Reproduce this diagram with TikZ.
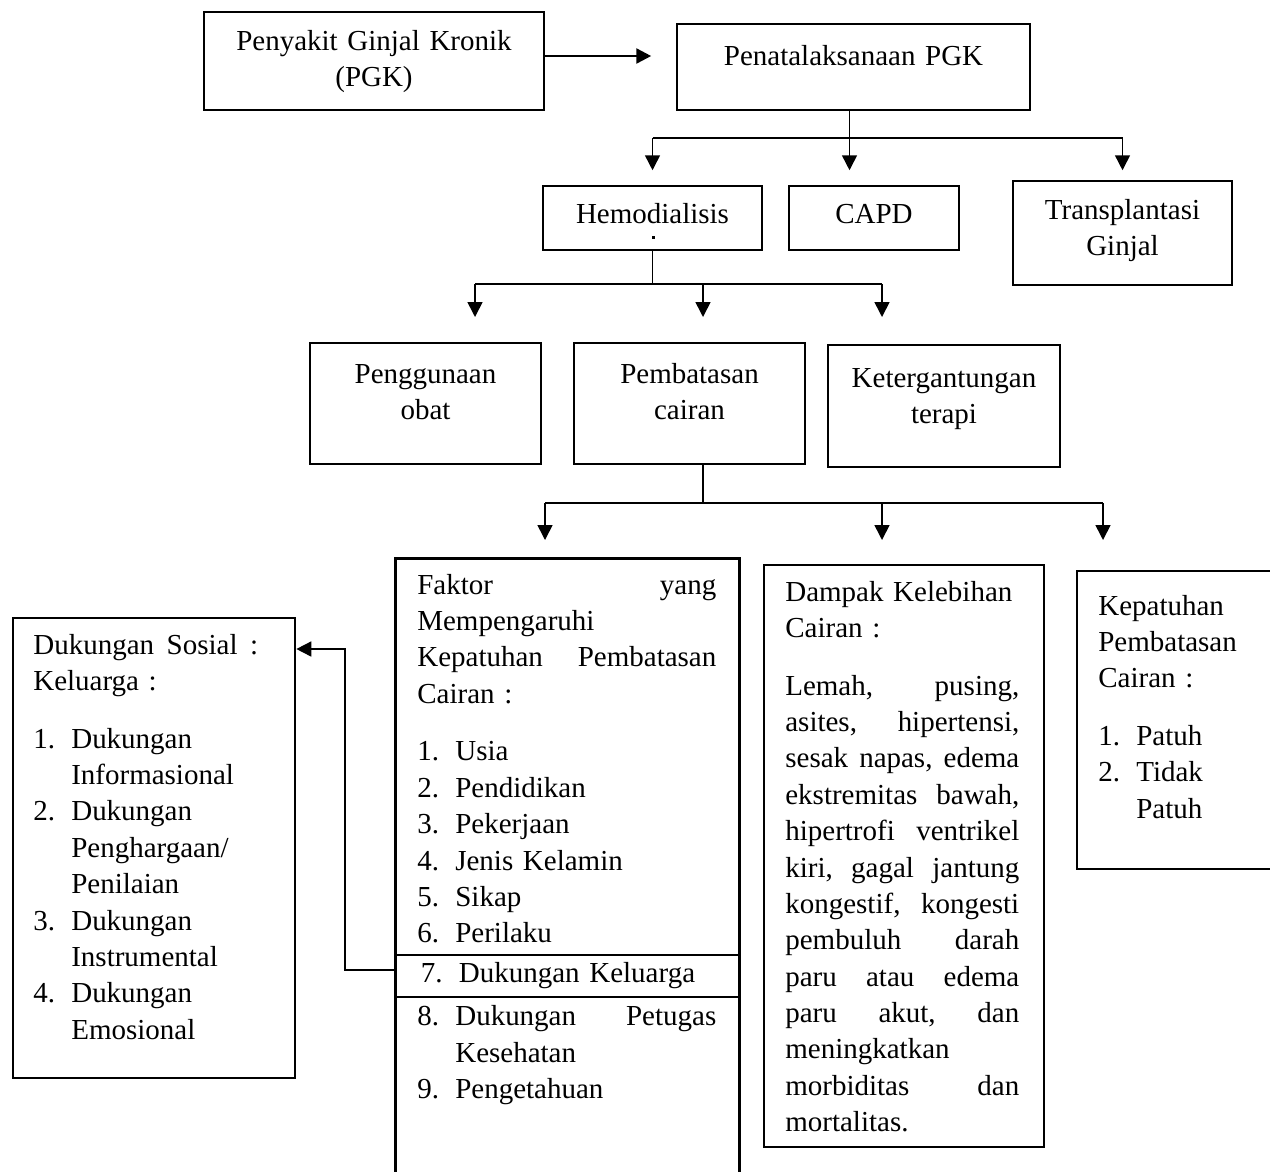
\documentclass[tikz,border=0pt]{standalone}
\usepackage{fontspec}
\setmainfont{Liberation Serif}
\usetikzlibrary{arrows.meta}
\newcommand{\itm}[2]{\makebox[0.76cm][l]{#1}#2}

\begin{document}
\begin{tikzpicture}[x=0.02cm,y=-0.02cm,>={Triangle[width=8.5pt,length=8.5pt]},
    font=\fontsize{16.5}{20.7}\selectfont,
    box/.style 2 args={draw,line width=1.4pt,inner sep=0pt,align=center,
      text width=#1,minimum width=#1,minimum height=#2,text height=0.4cm},
    tallbox/.style 2 args={draw,line width=1.35pt,anchor=north west,inner sep=0pt,
      minimum width=#1,minimum height=#2},
    txt/.style={anchor=base west,inner sep=0pt,align=left,text width=#1},
    conn/.style={line width=0.9pt}]
\useasboundingbox (0,0) rectangle (1270,1171);

% baris atas
\node[box={6.8cm}{1.96cm},text depth=0.84cm] (pgk) at (374,61) {Penyakit Ginjal Kronik\\(PGK)};
\node[box={7.06cm}{1.72cm},text depth=0.48cm] (pen) at (853.5,67) {Penatalaksanaan PGK};

% jenis terapi
\node[box={4.38cm}{1.28cm},text depth=0.2cm] (hemo) at (652.5,218) {Hemodialisis};
\node[box={3.4cm}{1.28cm},text depth=0.2cm] (capd) at (874,218) {CAPD};
\node[box={4.38cm}{2.08cm},text depth=0.96cm] (trans) at (1122.5,233) {Transplantasi\\Ginjal};
\fill (651.5,235.5) rectangle ++(3,3);

% masalah hemodialisis
\node[box={4.62cm}{2.42cm},text depth=1.22cm] (obat) at (425.5,403.5) {Penggunaan\\obat};
\node[box={4.62cm}{2.42cm},text depth=1.22cm] (pemb) at (689.5,403.5) {Pembatasan\\cairan};
\node[box={4.64cm}{2.44cm},text depth=1.16cm] (terapi) at (944,406) {Ketergantungan\\terapi};

% kotak bawah
\node[tallbox={6.88cm}{12.7cm},line width=1.8pt] (faktor) at (394,557) {};
\node[tallbox={5.6cm}{11.64cm}] (dampak) at (763,564) {};
\node[tallbox={4.3cm}{5.96cm}] (patuh) at (1076,570) {};
\node[tallbox={5.64cm}{9.2cm}] (duk) at (12,617) {};
\node[tallbox={6.88cm}{0.84cm},line width=1.1pt,inner xsep=0.52cm,text width=5.84cm,
      align=left] (kel) at (394,954) {\itm{7.}{Dukungan Keluarga}};

\node[txt=5.98cm] (ftxt) at ([xshift=0.46cm,yshift=-0.74cm]faktor.north west)
  {Faktor \hfill yang\\ Mempengaruhi\\ Kepatuhan \hfill Pembatasan\\ Cairan :\\[0.43cm]
   \itm{1.}{Usia}\\ \itm{2.}{Pendidikan}\\ \itm{3.}{Pekerjaan}\\
   \itm{4.}{Jenis Kelamin}\\ \itm{5.}{Sikap}\\ \itm{6.}{Perilaku}};
\node[txt=5.98cm] (ftxt2) at ([xshift=0.46cm,yshift=-0.56cm]kel.south west)
  {\itm{8.}{Dukungan \hfill Petugas}\\ \itm{}{Kesehatan}\\ \itm{9.}{Pengetahuan}};
\node[txt=4.68cm] (dtxt) at ([xshift=0.44cm,yshift=-0.74cm]dampak.north west)
  {Dampak Kelebihan\\ Cairan :\\[0.43cm]
   Lemah, \hfill pusing,\\ asites, \hfill hipertensi,\\ sesak \hfill napas, \hfill edema\\
   ekstremitas \hfill bawah,\\ hipertrofi \hfill ventrikel\\ kiri, \hfill gagal \hfill jantung\\
   kongestif, \hfill kongesti\\ pembuluh \hfill darah\\ paru \hfill atau \hfill edema\\
   paru \hfill akut, \hfill dan\\ meningkatkan\\ morbiditas \hfill dan\\ mortalitas.};
\node[txt=3.6cm] (ptxt) at ([xshift=0.44cm,yshift=-0.9cm]patuh.north west)
  {Kepatuhan\\ Pembatasan\\ Cairan :\\[0.43cm] \itm{1.}{Patuh}\\ \itm{2.}{Tidak}\\ \itm{}{Patuh}};
\node[txt=4.5cm] (stxt) at ([xshift=0.42cm,yshift=-0.74cm]duk.north west)
  {Dukungan \hfill Sosial \hfill :\\ Keluarga :\\[0.43cm]
   \itm{1.}{Dukungan}\\ \itm{}{Informasional}\\ \itm{2.}{Dukungan}\\ \itm{}{Penghargaan/}\\
   \itm{}{Penilaian}\\ \itm{3.}{Dukungan}\\ \itm{}{Instrumental}\\ \itm{4.}{Dukungan}\\
   \itm{}{Emosional}};

% panah utama
\draw[->,line width=1.5pt] ([yshift=0.1cm]pgk.east) -- ++(106,0);

% cabang penatalaksanaan
\draw[conn] ([xshift=-0.08cm]pen.south) -- ++(0,27) coordinate (j1);
\draw[conn] (hemo |- j1) -- (trans |- j1);
\foreach \n in {hemo,j1,trans}
  \draw[conn,->] (\n |- j1) -- ++(0,32);

% cabang hemodialisis
\foreach \x [count=\i] in {475,703,882} \coordinate (a\i) at (\x,284);
\draw[conn] (hemo.south) -- (hemo.south |- a1);
\draw[conn] (a1) -- (a3);
\foreach \i in {1,2,3}
  \draw[conn,->] (a\i) -- ++(0,33);

% cabang pembatasan cairan
\foreach \x [count=\i] in {545,882,1103} \coordinate (b\i) at (\x,503);
\draw[conn] ([xshift=0.27cm]pemb.south) -- ([xshift=0.27cm]pemb.south |- b1);
\draw[conn] (b1) -- (b3);
\foreach \i in {1,2,3}
  \draw[conn,->] (b\i) -- ++(0,37);

% dukungan keluarga
\draw[conn,->] ([yshift=0.12cm]kel.west) -- ++(-49,0) |- ([yshift=-0.64cm]duk.north east);
\end{tikzpicture}
\end{document}
